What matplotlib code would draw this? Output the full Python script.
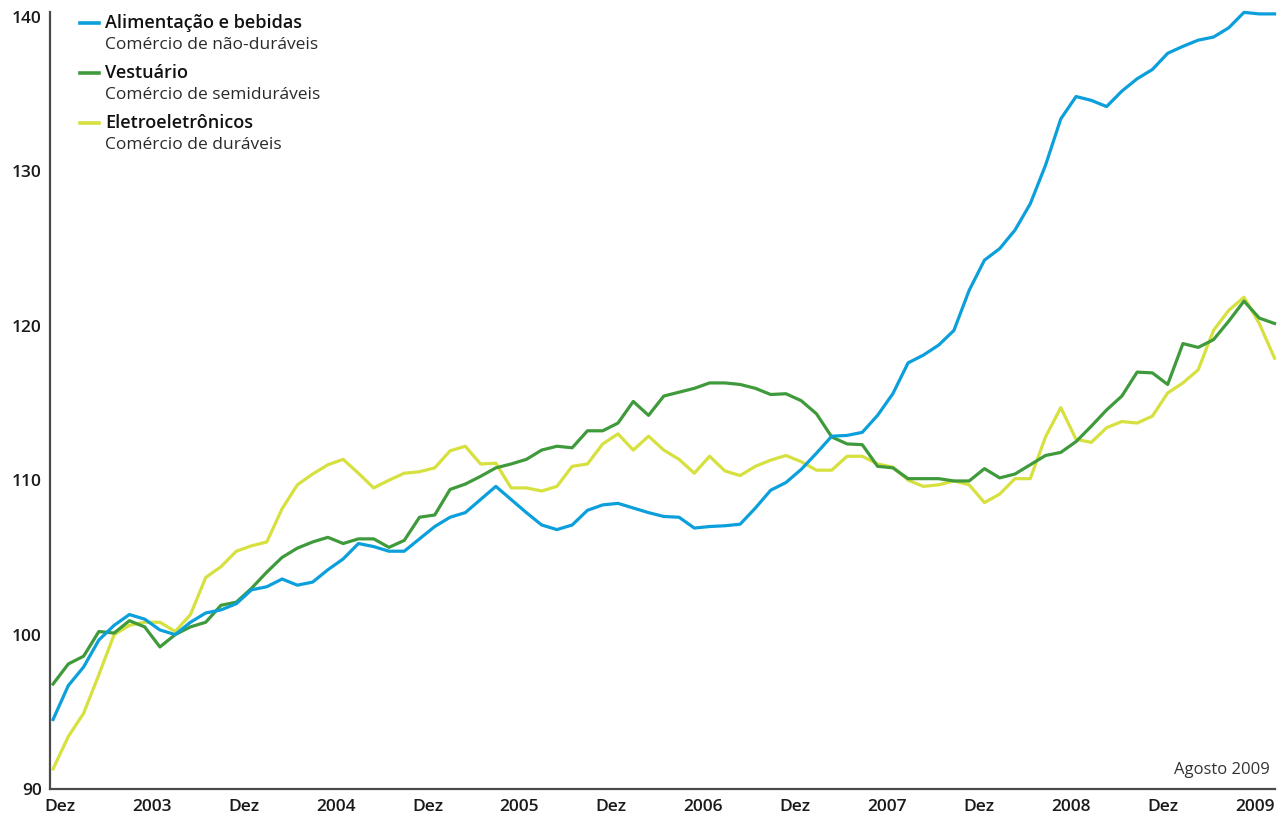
import numpy as np
import matplotlib
matplotlib.use("Agg")
import matplotlib.pyplot as plt
from matplotlib.lines import Line2D

plt.rcParams['font.family'] = ['Open Sans', 'DejaVu Sans']

# ---- data: monthly index, Dez 2002 .. Ago 2009 ----
alimentacao = [
    94.5, 96.7, 97.9, 99.65, 100.6, 101.3, 101.0, 100.3, 100.0, 100.8,
    101.4, 101.6, 102.0, 102.9, 103.1, 103.6, 103.2, 103.4, 104.2, 104.9,
    105.9, 105.7, 105.4, 105.4, 106.2, 107.0, 107.6, 107.9, 108.75, 109.6,
    108.75, 107.9, 107.1, 106.8, 107.1, 108.05, 108.4, 108.5, 108.2, 107.9,
    107.65, 107.6, 106.9, 107.0, 107.05, 107.15, 108.2, 109.35, 109.85, 110.7,
    111.75, 112.85, 112.9, 113.1, 114.2, 115.6, 117.6, 118.1, 118.75, 119.7,
    122.3, 124.25, 125.0, 126.2, 127.9, 130.4, 133.4, 134.85, 134.6, 134.2,
    135.2, 136.0, 136.6, 137.65, 138.1, 138.5, 138.7, 139.3, 140.3, 140.2,
    140.2,
]
vestuario = [
    96.8, 98.1, 98.6, 100.2, 100.1, 100.9, 100.5, 99.2, 100.0, 100.5,
    100.8, 101.9, 102.1, 103.0, 104.05, 105.0, 105.6, 106.0, 106.3, 105.9,
    106.2, 106.2, 105.65, 106.1, 107.6, 107.75, 109.4, 109.75, 110.25, 110.8,
    111.05, 111.35, 111.95, 112.2, 112.1, 113.2, 113.2, 113.7, 115.1, 114.2,
    115.45, 115.7, 115.95, 116.3, 116.3, 116.2, 115.95, 115.55, 115.6, 115.15,
    114.3, 112.8, 112.35, 112.3, 110.9, 110.8, 110.1, 110.1, 110.1, 109.95,
    109.95, 110.75, 110.15, 110.4, 111.0, 111.6, 111.8, 112.5, 113.5, 114.55,
    115.45, 117.0, 116.95, 116.2, 118.85, 118.6, 119.1, 120.3, 121.6, 120.5,
    120.15,
]
eletro = [
    91.3, 93.4, 94.9, 97.4, 100.0, 100.6, 100.8, 100.8, 100.2, 101.3,
    103.7, 104.4, 105.4, 105.75, 106.0, 108.15, 109.7, 110.4, 111.0, 111.35,
    110.45, 109.5, 110.0, 110.45, 110.55, 110.8, 111.9, 112.2, 111.05, 111.1,
    109.5, 109.5, 109.3, 109.6, 110.9, 111.05, 112.35, 113.0, 111.95, 112.85,
    111.95, 111.35, 110.45, 111.55, 110.6, 110.3, 110.9, 111.3, 111.6, 111.2,
    110.65, 110.65, 111.55, 111.55, 111.05, 110.85, 110.0, 109.6, 109.7, 109.95,
    109.7, 108.55, 109.1, 110.1, 110.1, 112.8, 114.7, 112.65, 112.45, 113.4,
    113.8, 113.7, 114.15, 115.65, 116.3, 117.15, 119.7, 121.0, 121.85, 120.15,
    117.9,
]
x_labels = ["Dez", "2003", "Dez", "2004", "Dez", "2005", "Dez",
            "2006", "Dez", "2007", "Dez", "2008", "Dez", "2009"]
y_ticks = [90, 100, 110, 120, 130, 140]

series_titles = ["Alimentação e bebidas", "Vestuário", "Eletroeletrônicos"]
series_subs = ["Comércio de não-duráveis", "Comércio de semiduráveis",
               "Comércio de duráveis"]

C_BLUE = "#0b9fdb"
C_GREEN = "#3f9a3c"
C_YELLOW = "#d6e13f"
colors = [C_BLUE, C_GREEN, C_YELLOW]

W, H = 1282, 818
fig = plt.figure(figsize=(W / 100, H / 100), dpi=100)
ax = fig.add_axes([50 / W, (H - 789) / H, (1275 - 50) / W, (789 - 12) / H])

x = np.arange(len(alimentacao))
lw = 2.3
ax.plot(x, eletro, color=C_YELLOW, lw=lw, clip_on=False, zorder=3)
ax.plot(x, vestuario, color=C_GREEN, lw=lw, clip_on=False, zorder=4)
ax.plot(x, alimentacao, color=C_BLUE, lw=lw, clip_on=False, zorder=5)

ax.set_xlim(-0.2, 80.03)
ax.set_ylim(90, 90 + 777 / 15.44)

for s in ["top", "right"]:
    ax.spines[s].set_visible(False)
for s in ["left", "bottom"]:
    ax.spines[s].set_color("#4a4a4a")
    ax.spines[s].set_linewidth(1.6)

ax.set_yticks(y_ticks)
ax.set_yticklabels([str(v) for v in y_ticks])
ax.set_xticks(np.linspace(0.45, 78.7, len(x_labels)))
ax.set_xticklabels(x_labels)
ax.tick_params(axis="both", length=0, labelsize=12.5, labelcolor="#1a1a1a")
ax.tick_params(axis="y", pad=6)
ax.tick_params(axis="x", pad=7)
for lab in ax.get_xticklabels() + ax.get_yticklabels():
    lab.set_fontweight("semibold")

# legend (manual)
title_y = [23, 73, 123]
for t, s, c, yy in zip(series_titles, series_subs, colors, title_y):
    fig.add_artist(Line2D([80 / W, 99 / W], [1 - yy / H, 1 - yy / H],
                          color=c, lw=2.6, transform=fig.transFigure))
    fig.text(105 / W, 1 - yy / H, t, fontsize=13, fontweight="semibold",
             color="#111111", ha="left", va="center")
    fig.text(105 / W, 1 - (yy + 22) / H, s, fontsize=12.5, color="#2a2a2a",
             ha="left", va="center")

fig.text(1270 / W, 1 - 770 / H, "Agosto 2009", fontsize=12, color="#333333",
         ha="right", va="center")

fig.savefig("out.png", dpi=100)
